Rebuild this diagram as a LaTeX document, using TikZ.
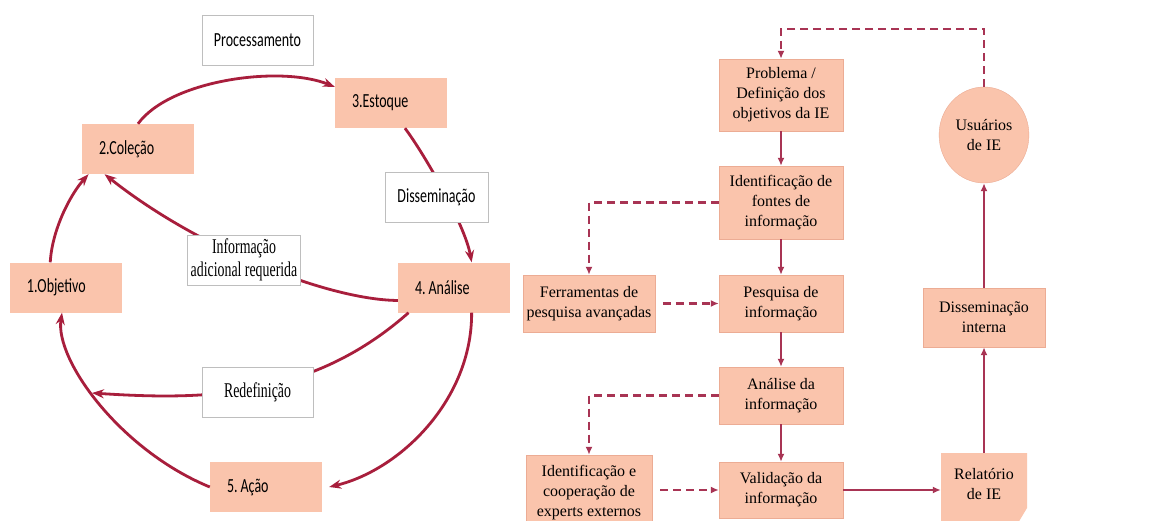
\documentclass[tikz,border=0pt]{standalone}
\usepackage{fontspec}
\setmainfont{Liberation Serif}
\newfontfamily\stagefont[FakeStretch=0.7]{Carlito}
\newfontfamily\notefont[FakeStretch=0.66]{Liberation Serif}
\usetikzlibrary{arrows.meta,shapes.geometric}
\definecolor{salmon}{RGB}{250,196,172}
\definecolor{salmonline}{RGB}{236,172,148}
\definecolor{cyclered}{RGB}{168,30,60}
\definecolor{flowred}{RGB}{168,52,84}
\definecolor{taggray}{RGB}{190,190,190}

\begin{document}
\begin{tikzpicture}[
  x=1pt,y=1pt,
  stage/.style={fill=salmon,minimum height=50pt,text width=78pt,inner xsep=17pt,
    align=left,font=\stagefont\fontsize{20}{22}\selectfont},
  tag/.style={draw=taggray,line width=0.8pt,fill=white,minimum width=111pt,
    minimum height=50pt,align=center,font=\stagefont\fontsize{20}{22}\selectfont},
  seriftag/.style={tag,font=\notefont\fontsize{21}{23}\selectfont},
  cycleline/.style={draw=cyclered,line width=2.8pt,-{Stealth[length=12pt,width=9pt]}},
  task/.style={draw=salmonline,fill=salmon,minimum width=124pt,align=center,
    font=\fontsize{16}{20}\selectfont},
  flow/.style={draw=flowred,line width=2.4pt,-{Latex[length=8pt,width=7pt]}},
  aside/.style={flow,dash pattern=on 8pt off 5pt}]
  \fill[white] (0,0) rectangle (1150,-521);
  \useasboundingbox (0,0) rectangle (1150,-521);

  \node[stage] (obj) at (66,-287.5) {1.Objetivo};
  \node[stage] (col) at (138,-149) {2.Coleção};
  \node[stage] (est) at (391,-103) {3.Estoque};
  \node[stage] (ana) at (454,-287.5) {4.\hspace{3pt}Análise};
  \node[stage] (aca) at (266,-487) {5.\hspace{3pt}Ação};
  \coordinate (redtip) at (92,-393);

  \draw[cycleline] (col.north) .. controls (170,-80) and (280,-65) .. (est.164);
  \draw[cycleline] (est.-61) .. controls (425,-155) and (465,-225) .. (ana.55);
  \draw[cycleline] (ana.193) .. controls (330,-300) and (200,-250) .. (col.-143);
  \draw[cycleline] (ana.-55) .. controls (472,-400) and (400,-470) .. ([xshift=7pt]aca.east);
  \draw[cycleline] (aca.west) .. controls (120,-450) and (55,-360) .. (obj.-99);
  \draw[cycleline] (obj.122) .. controls (52,-230) and (70,-195) .. (col.-153);
  \draw[cycleline] (ana.-151) .. controls (310,-400) and (200,-400) .. (redtip);

  \node[tag] (proc) at (257.5,-40.5) {Processamento};
  \node[tag,minimum width=103pt] (dis) at (436.5,-197) {Disseminação};
  \node[seriftag,minimum width=108pt] (inf) at (244,-260)
    {Informação\\adicional requerida};
  \node[seriftag] (red) at (257.5,-392) {Redefinição};

  \node[task,minimum height=72pt] (prob) at (781,-95)
    {Problema /\\Definição dos\\objetivos da IE};
  \node[task,minimum height=73pt] (fon) at (781,-202.5)
    {Identificação de\\fontes de\\informação};
  \node[task,minimum height=57pt] (pes) at (781,-303.5) {Pesquisa de\\informação};
  \node[task,minimum height=57pt] (anl) at (781,-395.5) {Análise da\\informação};
  \node[task,minimum height=56pt] (val) at (781,-490) {Validação da\\informação};
  \node[task,minimum width=126pt,minimum height=57pt] (fer) at (589,-303.5)
    {Ferramentas de\\pesquisa avançadas};
  \node[task,minimum width=126pt,minimum height=76pt] (coop) at (589,-493)
    {Identificação e\\cooperação de\\experts externos};
  \node[task,minimum width=122pt,minimum height=59pt] (din) at (984,-317.5)
    {Disseminação\\interna};
  \node[task,ellipse,minimum width=84pt,minimum height=96pt] (usu) at (984,-135)
    {Usuários\\de IE};
  \fill[salmon] (941,-453) -- (1027,-453) -- (1027,-508) -- (1015,-528)
    -- (941,-528) -- cycle;
  \node[task,draw=none,fill=none,minimum width=86pt,minimum height=62pt] (rel)
    at (984,-484) {Relatório\\de IE};

  \draw[flow] (prob) -- (fon);
  \draw[flow] (fon) -- (pes);
  \draw[flow] (pes) -- (anl);
  \draw[flow] (anl) -- (val);
  \draw[flow] (val.east) -- (val.east -| rel.west);
  \draw[flow] (rel) -- (din);
  \draw[flow] (din) -- (usu);
  \draw[aside] (usu.north) -- ++(0,58) -| (prob.north);
  \draw[aside] (fon.west) -| (fer.north);
  \draw[aside] ([xshift=8pt]fer.east) -- (pes.west);
  \draw[aside] (anl.west) -| (coop.north);
  \draw[aside] ([xshift=8pt]coop.east |- val.west) -- (val.west);
\end{tikzpicture}
\end{document}
